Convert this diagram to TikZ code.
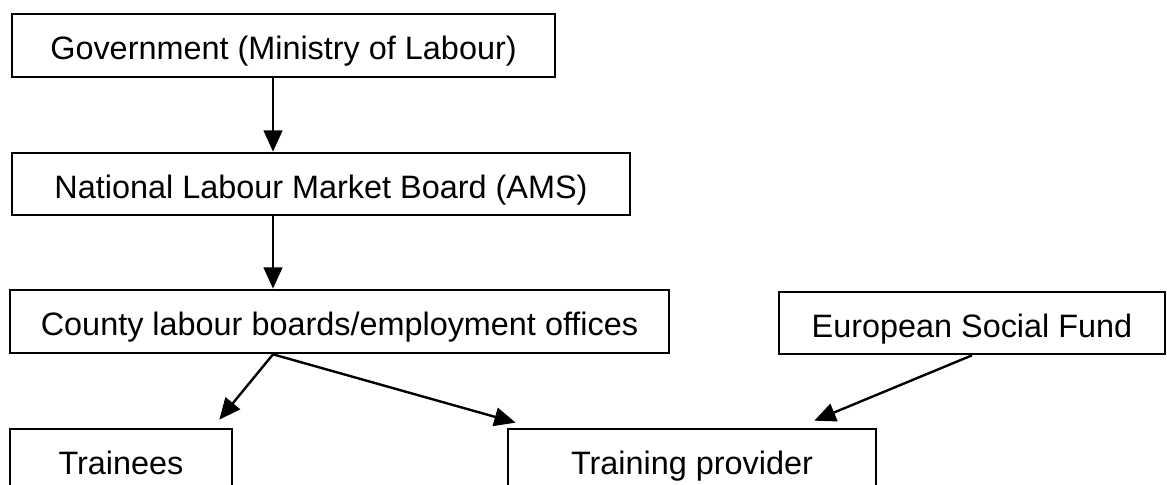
\documentclass[tikz,border=0pt]{standalone}
\usepackage{fontspec}
\setmainfont{Liberation Sans}
\usepackage{tikz}
\usetikzlibrary{arrows.meta}

\begin{document}
\begin{tikzpicture}[x=0.75pt, y=-0.75pt,
    box/.style={draw, line width=2pt, inner sep=0pt, minimum height=46.5pt, text height=21.5pt, text depth=0pt, font=\fontsize{24.3}{29}\selectfont},
    arr/.style={-{Triangle[length=16pt, width=14pt]}, line width=1.8pt}]
    \useasboundingbox (0,0) rectangle (1167,485);
    \clip (0,0) rectangle (1167,485);
    \node [box, minimum width=407.25pt, minimum height=47.25pt] (gov) at (283.5,45.5) {Government (Ministry of Labour)};
    \node [box, minimum width=463.5pt] (ams) at (321,184) {National Labour Market Board (AMS)};
    \node [box, minimum width=494.25pt, minimum height=47.25pt] (county) at (339.5,321.5) {County labour boards/employment offices};
    \node [box, minimum width=289.5pt] (esf) at (972,323) {European Social Fund};
    \node [box, minimum width=166.5pt] (trainees) at (121,460) {Trainees};
    \node [box, minimum width=276pt] (provider) at (692,460) {Training provider};
    \coordinate (spine) at (273,0);
    \draw [arr] (spine |- gov.south) -- (spine |- ams.north);
    \draw [arr] (spine |- ams.south) -- (spine |- county.north);
    \draw [arr] (spine |- county.south) -- ([shift={(-14,-8)}]trainees.north east);
    \draw [arr] (spine |- county.south) -- ([shift={(9,-5)}]provider.north west);
    \draw [arr] (esf.south) -- ([shift={(-63,-7)}]provider.north east);
\end{tikzpicture}
\end{document}
